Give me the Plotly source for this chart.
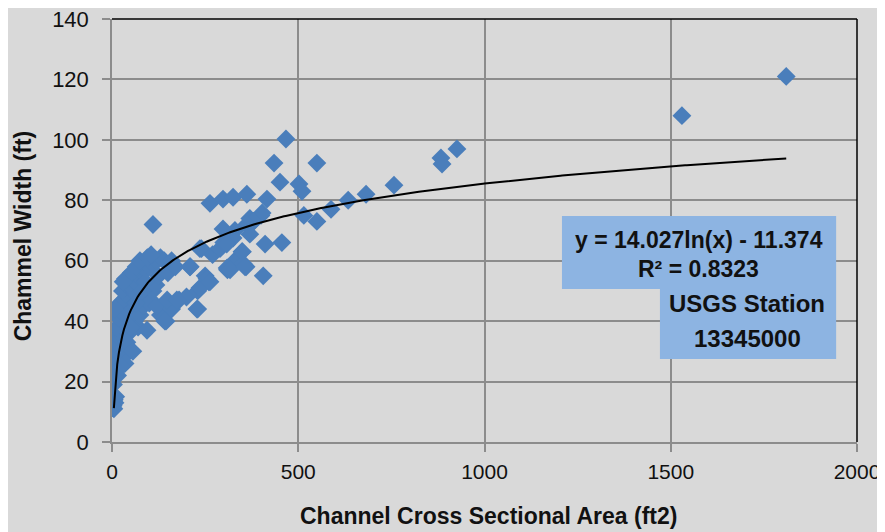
import numpy as np
import plotly.graph_objects as go

# Channel cross sectional area (ft2) and channel width (ft)
area = [5, 6, 8, 10, 4, 7, 10, 12, 15, 18, 8, 14, 20, 25, 10, 16, 22, 28, 12, 30,
        18, 35, 26, 40, 15, 22, 45, 32, 50, 38, 28, 55, 45, 62, 36, 70, 80, 52, 90, 65,
        100, 110, 120, 75, 130, 95, 140, 105, 55, 60, 70, 75, 85, 95, 100, 110, 118, 125,
        45, 40, 30, 35, 25, 50, 65, 80, 90, 130, 120, 145, 160, 150, 160, 170, 180, 200,
        210, 230, 240, 250, 260, 270, 290, 300, 320, 330, 350, 360, 310, 330, 370, 380,
        400, 230, 3, 8, 30, 56, 94, 142, 110, 263, 298, 325, 362, 416, 451, 411, 456,
        406, 236, 209, 255, 228, 148, 174, 236, 263, 309, 352, 467, 435, 550, 502, 510,
        588, 634, 682, 550, 515, 403, 379, 362, 298, 325, 370, 308, 349, 317, 357, 757,
        883, 886, 926, 1530, 1810]
width = [11, 14, 13, 15, 19, 22, 24, 26, 22, 28, 28, 30, 31, 33, 33, 35, 36, 38, 38, 40,
         41, 42, 43, 44, 45, 46, 46, 47, 48, 49, 50, 50, 52, 53, 54, 55, 56, 56, 57, 58,
         58, 59, 60, 60, 61, 61, 60, 62, 44, 40, 38, 42, 45, 48, 46, 50, 52, 55,
         36, 33, 28, 26, 25, 38, 46, 50, 53, 42, 45, 40, 44, 56, 60, 58, 47, 48,
         58, 50, 64, 55, 53, 62, 64, 66, 68, 60, 63, 58, 57, 70, 74, 73,
         75, 44, 12, 44, 53, 30, 37, 40, 72, 79, 80.4, 81, 82, 80.4, 86, 65.5, 66,
         55, 64, 58, 54, 44, 47, 47, 51, 53, 57.6, 59, 100.3, 92.3, 92.3, 85.4, 83,
         77, 80, 82, 73, 75, 75.8, 73, 72, 70.5, 67.5, 68.8, 65.5, 63, 57, 58, 85,
         94, 92, 97, 108, 121]

# Logarithmic trendline as stated in the chart
coef_a = 14.027
coef_b = -11.374
x_tick_vals = [0, 500, 1000, 1500, 2000]
y_tick_vals = [0, 20, 40, 60, 80, 100, 120, 140]

fit_x = np.linspace(min(area) + 2, max(area), 400)
fit_y = coef_a * np.log(fit_x) + coef_b

font_main = "Liberation Sans, Arial, sans-serif"
ink = "#111111"

fig = go.Figure()
fig.add_trace(go.Scatter(x=area, y=width, mode="markers",
                         marker=dict(symbol="diamond", size=14.5, color="#4a7ebb",
                                     line=dict(width=0)),
                         showlegend=False, hoverinfo="x+y"))
fig.add_trace(go.Scatter(x=fit_x, y=fit_y, mode="lines",
                         line=dict(color="black", width=2),
                         showlegend=False, hoverinfo="skip"))

# Text box rectangles
fig.add_shape(type="rect", xref="x", yref="y", x0=1208, x1=1944, y0=50.6, y1=74.8,
              fillcolor="#8db4e2", line=dict(width=0), layer="above")
fig.add_shape(type="rect", xref="x", yref="y", x0=1471, x1=1944, y0=27.5, y1=50.6,
              fillcolor="#8db4e2", line=dict(width=0), layer="above")
# top and right border
fig.add_shape(type="line", xref="paper", yref="paper", x0=0, x1=1, y0=1, y1=1,
              line=dict(color="black", width=1.5))
fig.add_shape(type="line", xref="paper", yref="paper", x0=1, x1=1, y0=0, y1=1,
              line=dict(color="black", width=1.5))

fig.add_annotation(x=1576, y=67.0, xref="x", yref="y", showarrow=False,
                   text="<b>y = 14.027ln(x) - 11.374</b>",
                   font=dict(family=font_main, size=23, color=ink))
fig.add_annotation(x=1574, y=57.3, xref="x", yref="y", showarrow=False,
                   text="<b>R² = 0.8323</b>",
                   font=dict(family=font_main, size=23, color=ink))
fig.add_annotation(x=1705, y=45.8, xref="x", yref="y", showarrow=False,
                   text="<b>USGS Station</b>",
                   font=dict(family=font_main, size=24, color=ink))
fig.add_annotation(x=1705, y=34.4, xref="x", yref="y", showarrow=False,
                   text="<b>13345000</b>",
                   font=dict(family=font_main, size=24, color=ink))

# Axis titles
fig.add_annotation(x=0.505, y=-0.175, xref="paper", yref="paper", showarrow=False,
                   xanchor="center", yanchor="middle",
                   text="<b>Channel Cross Sectional Area (ft2)</b>",
                   font=dict(family=font_main, size=23, color=ink))
fig.add_annotation(x=-0.119, y=0.487, xref="paper", yref="paper", showarrow=False,
                   xanchor="center", yanchor="middle",
                   text="<b>Chammel Width (ft)</b>", textangle=-90,
                   font=dict(family=font_main, size=23, color=ink))

axis_common = dict(showgrid=True, gridcolor="#8c8c8c", gridwidth=1.5,
                   showline=True, linecolor="#8c8c8c", linewidth=1.5,
                   ticks="outside", ticklen=8, tickcolor="#8c8c8c", tickwidth=1.5,
                   zeroline=False, automargin=False, ticklabeloverflow="allow")

# page body adds an 8px offset, so the figure is sized to compensate
fig.update_layout(
    width=877, height=524,
    margin=dict(l=104, r=28, t=11, b=90),
    paper_bgcolor="#d9d9d9", plot_bgcolor="#d9d9d9",
    xaxis=dict(range=[0, 2000], tickvals=x_tick_vals, **axis_common,
               tickfont=dict(family=font_main, size=21, color=ink),
               ticklabelstandoff=2),
    yaxis=dict(range=[0, 140], tickvals=y_tick_vals, **axis_common,
               tickfont=dict(family=font_main, size=22, color=ink),
               ticklabelstandoff=9),
)

fig.write_html("out.html")
